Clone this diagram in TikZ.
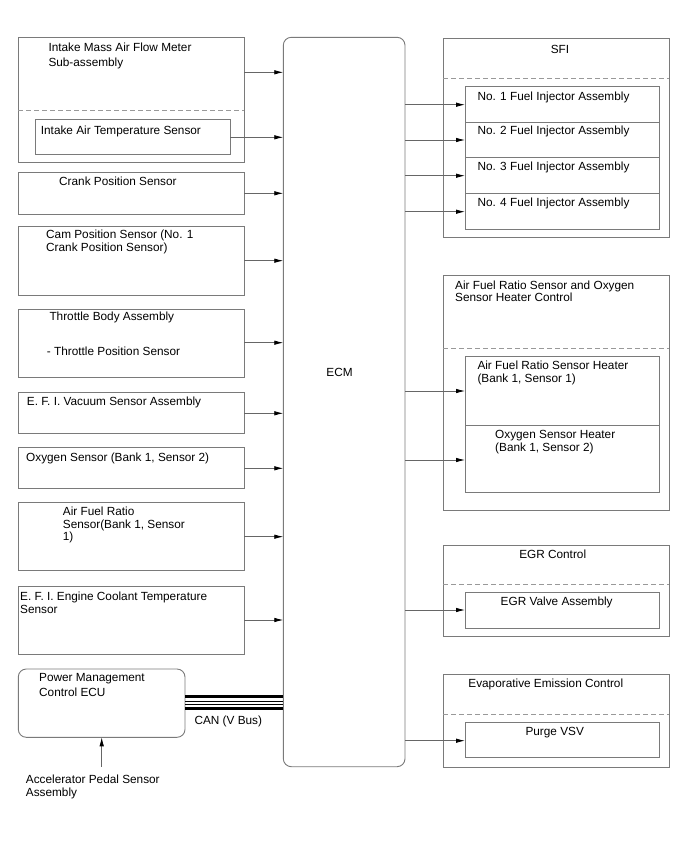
\documentclass[tikz,border=0pt]{standalone}
\usepackage{fontspec}
\setmainfont{Liberation Sans}
\usetikzlibrary{arrows.meta}
\definecolor{boxgray}{HTML}{7A7A7A}
\definecolor{linegray}{HTML}{666666}
\definecolor{dashgray}{HTML}{999999}
\newcommand\ml[2]{{\fontsize{11.8}{#1}\selectfont\begin{tabular}[t]{@{}l@{}}#2\end{tabular}}}
\begin{document}
\begin{tikzpicture}[x=1pt,y=-1pt,
  font=\fontsize{11.8}{14}\selectfont,
  box/.style={draw=boxgray, line width=0.9pt, inner sep=0pt, outer sep=0pt, anchor=north west},
  rbox/.style={box, rounded corners=8pt},
  lbl/.style={inner sep=0pt, anchor=base west},
  clbl/.style={inner sep=0pt, anchor=base},
  arr/.style={draw=linegray, line width=0.8pt, -{Latex[length=9pt,width=4.5pt,color=black]}},
  sepline/.style={draw=dashgray, line width=0.8pt, dash pattern=on 5pt off 3pt},
  thickbus/.style={draw=black, line width=2.5pt},
  thinbus/.style={draw=black, line width=0.8pt}]
\useasboundingbox (0,0) rectangle (688,852);

% ECM
\node[rbox, minimum width=121.7pt, minimum height=729.4pt] (ecm) at (283.3,37.3) {};
\node[clbl] (ecmt) at (339.5,376.7) {ECM};

% Left side boxes
\node[box, minimum width=226pt, minimum height=124.7pt] (b1) at (18.3,37.3) {};
\node[box, minimum width=195pt, minimum height=35.3pt] (iat) at (35,119) {};
\node[box, minimum width=226pt, minimum height=42pt] (b2) at (18.3,172.3) {};
\node[box, minimum width=226pt, minimum height=68.7pt] (b3) at (18.3,226.3) {};
\node[box, minimum width=226pt, minimum height=68pt] (b4) at (18.3,309) {};
\node[box, minimum width=226pt, minimum height=40.8pt] (b5) at (18.3,392.5) {};
\node[box, minimum width=226pt, minimum height=40.6pt] (b6) at (18.3,447.7) {};
\node[box, minimum width=226pt, minimum height=68pt] (b7) at (18.3,502.7) {};
\node[box, minimum width=226pt, minimum height=67.3pt] (b8) at (18.3,586.7) {};
\node[rbox, minimum width=166.7pt, minimum height=68.3pt] (pmc) at (18.3,669) {};

\draw[sepline] (b1.west |- 0,110.7) -- (b1.east |- 0,110.7);

\node[lbl] (t1) at (48.3,51.7) {\ml{15}{Intake Mass Air Flow Meter\\Sub-assembly}};
\node[lbl] (t1b) at (40.7,134.1) {Intake Air Temperature Sensor};
\node[lbl] (t2) at (59,185.7) {Crank Position Sensor};
\node[lbl] (t3) at (46,238.4) {\ml{13.3}{Cam Position Sensor (No. 1\\Crank Position Sensor)}};
\node[lbl] (t4a) at (49.3,320.1) {Throttle Body Assembly};
\node[lbl] (t4b) at (46.7,355.1) {- Throttle Position Sensor};
\node[lbl] (t5) at (26.7,405.7) {E. F. I. Vacuum Sensor Assembly};
\node[lbl] (t6) at (26,461.1) {Oxygen Sensor (Bank 1, Sensor 2)};
\node[lbl] (t7) at (62.7,515.7) {\ml{12.5}{Air Fuel Ratio\\Sensor(Bank 1, Sensor\\1)}};
\node[lbl] (t8) at (20,600.1) {\ml{13.3}{E. F. I. Engine Coolant Temperature\\Sensor}};
\node[lbl] (t9) at (39,681.7) {\ml{14.4}{Power Management\\Control ECU}};
\node[lbl] (cant) at (194.3,724.4) {CAN (V Bus)};
\node[lbl] (acct) at (25.7,783.4) {\ml{13.3}{Accelerator Pedal Sensor\\Assembly}};

% left arrows
\draw[arr] (b1.east |- 0,72.3) -- (ecm.west |- 0,72.3);
\draw[arr] (iat.east |- 0,137.3) -- (ecm.west |- 0,137.3);
\draw[arr] (b2.east |- 0,193.3) -- (ecm.west |- 0,193.3);
\draw[arr] (b3.east |- 0,260.7) -- (ecm.west |- 0,260.7);
\draw[arr] (b4.east |- 0,342.7) -- (ecm.west |- 0,342.7);
\draw[arr] (b5.east |- 0,413.3) -- (ecm.west |- 0,413.3);
\draw[arr] (b6.east |- 0,468.3) -- (ecm.west |- 0,468.3);
\draw[arr] (b7.east |- 0,536.7) -- (ecm.west |- 0,536.7);
\draw[arr] (b8.east |- 0,620) -- (ecm.west |- 0,620);

% CAN bus
\draw[thickbus] (pmc.east |- 0,696.7) -- (ecm.west |- 0,696.7);
\draw[thinbus] (pmc.east |- 0,701.2) -- (ecm.west |- 0,701.2);
\draw[thinbus] (pmc.east |- 0,704.4) -- (ecm.west |- 0,704.4);
\draw[thickbus] (pmc.east |- 0,708.5) -- (ecm.west |- 0,708.5);

% accelerator
\coordinate (accs) at (101.7,766.7);
\draw[arr] (accs) -- (pmc.south -| accs);

% Right: SFI
\node[box, minimum width=226pt, minimum height=199pt] (sfi) at (443.3,38.3) {};
\draw[sepline] (sfi.west |- 0,78.3) -- (sfi.east |- 0,78.3);
\node[clbl] (sfit) at (560,53.4) {SFI};
\node[box, minimum width=194.3pt, minimum height=36pt] (fi1) at (465,86) {};
\node[box, minimum width=194.3pt, minimum height=35.7pt] (fi2) at (465,122) {};
\node[box, minimum width=194.3pt, minimum height=35.6pt] (fi3) at (465,157.7) {};
\node[box, minimum width=194.3pt, minimum height=35.7pt] (fi4) at (465,193.3) {};
\node[lbl] (fi1t) at (477.3,100.1) {No. 1 Fuel Injector Assembly};
\node[lbl] (fi2t) at (477.3,134.4) {No. 2 Fuel Injector Assembly};
\node[lbl] (fi3t) at (477.3,170.7) {No. 3 Fuel Injector Assembly};
\node[lbl] (fi4t) at (477.3,206.7) {No. 4 Fuel Injector Assembly};
\draw[arr] (ecm.east |- 0,104.7) -- (fi1.west |- 0,104.7);
\draw[arr] (ecm.east |- 0,140) -- (fi2.west |- 0,140);
\draw[arr] (ecm.east |- 0,175.7) -- (fi3.west |- 0,175.7);
\draw[arr] (ecm.east |- 0,211.7) -- (fi4.west |- 0,211.7);

% Right: AFR heater control
\node[box, minimum width=226pt, minimum height=235pt] (afr) at (443.3,275) {};
\draw[sepline] (afr.west |- 0,348.3) -- (afr.east |- 0,348.3);
\node[lbl] (afrt) at (455,289.1) {\ml{12.7}{Air Fuel Ratio Sensor and Oxygen\\Sensor Heater Control}};
\node[box, minimum width=194.3pt, minimum height=68.3pt] (afh) at (465,356.7) {};
\node[box, minimum width=194.3pt, minimum height=67.7pt] (oxh) at (465,425) {};
\node[lbl] (afht) at (477.3,369.1) {\ml{13.6}{Air Fuel Ratio Sensor Heater\\(Bank 1, Sensor 1)}};
\node[lbl] (oxht) at (495,438.4) {\ml{13.3}{Oxygen Sensor Heater\\(Bank 1, Sensor 2)}};
\draw[arr] (ecm.east |- 0,391) -- (afh.west |- 0,391);
\draw[arr] (ecm.east |- 0,460) -- (oxh.west |- 0,460);

% Right: EGR
\node[box, minimum width=226pt, minimum height=91.7pt] (egr) at (443.3,545) {};
\draw[sepline] (egr.west |- 0,584) -- (egr.east |- 0,584);
\node[clbl] (egrt) at (552.7,558.4) {EGR Control};
\node[box, minimum width=194.3pt, minimum height=36pt] (egv) at (465,592.3) {};
\node[clbl] (egvt) at (556.7,605.1) {EGR Valve Assembly};
\draw[arr] (ecm.east |- 0,610) -- (egv.west |- 0,610);

% Right: Evap
\node[box, minimum width=226pt, minimum height=93pt] (evp) at (443.3,674.3) {};
\draw[sepline] (evp.west |- 0,714) -- (evp.east |- 0,714);
\node[clbl] (evpt) at (545.8,687.4) {Evaporative Emission Control};
\node[box, minimum width=194.3pt, minimum height=35pt] (pvsv) at (465,722.3) {};
\node[clbl] (pvsvt) at (554.7,735.1) {Purge VSV};
\draw[arr] (ecm.east |- 0,740.7) -- (pvsv.west |- 0,740.7);
\end{tikzpicture}
\end{document}
